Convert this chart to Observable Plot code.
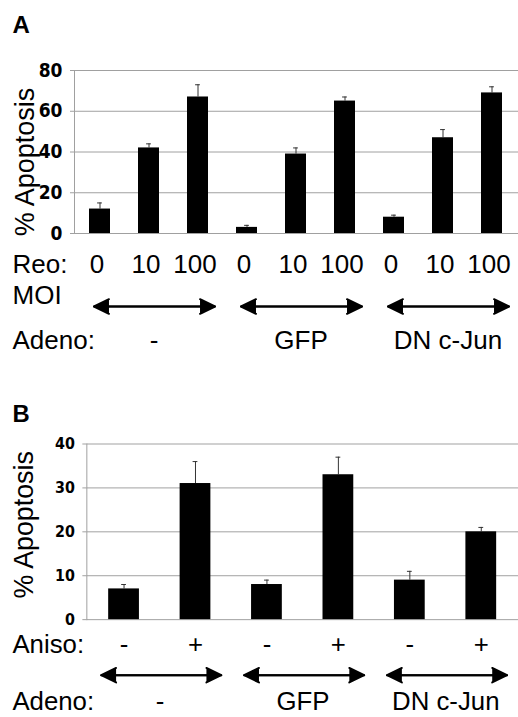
<!DOCTYPE html>
<html>
<head>
<meta charset="utf-8">
<script src="https://cdn.jsdelivr.net/npm/d3@7"></script>
<script src="https://cdn.jsdelivr.net/npm/@observablehq/plot@0.6"></script>
<style>
  html, body { margin: 0; padding: 0; background: #fff; overflow: hidden; width: 518px; height: 717px; }
  #wrap { position: relative; width: 518px; height: 717px; overflow: hidden; }
  #wrap svg { position: absolute; left: 0; overflow: visible; }
</style>
</head>
<body>
<div id="wrap"></div>
<script>
// ---------- Data ----------
const adenoGroups = ["-", "GFP", "DN c-Jun"];

// Panel A
const barsA = ["A1", "A2", "A3", "A4", "A5", "A6", "A7", "A8", "A9"];
const reoMOI = ["0", "10", "100", "0", "10", "100", "0", "10", "100"];
const apoptosisA = [12, 42, 67, 3, 39, 65, 8, 47, 69];
const errorA = [3, 2, 6, 1, 3, 2, 1, 4, 3];
const groupA = [0, 0, 0, 1, 1, 1, 2, 2, 2];
const yTicksA = [0, 20, 40, 60, 80];

// Panel B
const barsB = ["B1", "B2", "B3", "B4", "B5", "B6"];
const aniso = ["-", "+", "-", "+", "-", "+"];
const apoptosisB = [7, 31, 8, 33, 9, 20];
const errorB = [1, 5, 1, 4, 2, 1];
const groupB = [0, 0, 1, 1, 2, 2];
const yTicksB = [0, 10, 20, 30, 40];

// ---------- Build ----------
const FONT = "'Liberation Sans', Arial, Helvetica, sans-serif";
const TICKFONT = "'Liberation Sans Narrow', 'Arial Narrow', 'DejaVu Sans Condensed', sans-serif";

function buildPanel(cfg) {
  const rows = cfg.bars.map((b, i) => ({
    bar: b, label: cfg.treat[i], value: cfg.values[i], upper: cfg.values[i] + cfg.errors[i], group: cfg.group[i]
  }));
  const groups = cfg.groupNames.map((g, gi) => {
    const members = rows.filter(r => r.group === gi);
    return {name: g, first: members[0].bar, last: members[members.length - 1].bar,
            mid: members[Math.floor((members.length - 1) / 2)].bar};
  });
  const step = (cfg.width - cfg.marginLeft) / cfg.bars.length;
  const capInset = (step * 0.43 - 5) / 2;
  const textStyle = {fontSize: 26, lineAnchor: "bottom", fill: "black"};
  return Plot.plot({
    width: cfg.width,
    height: cfg.height,
    marginTop: cfg.marginTop,
    marginBottom: cfg.marginBottom,
    marginLeft: cfg.marginLeft,
    marginRight: 0,
    style: {fontFamily: FONT, color: "black", background: "transparent"},
    x: {domain: cfg.bars, paddingInner: 0.57, paddingOuter: 0.285, axis: null},
    y: {domain: cfg.yDomain},
    marks: [
      Plot.gridY(cfg.yTicks, {stroke: "#a0a0a0", strokeOpacity: 1, strokeWidth: 1}),
      Plot.frame({anchor: "left", stroke: "#a0a0a0", strokeWidth: 1}),
      Plot.axisY(cfg.yTicks, {tickSize: 4, tickPadding: 8, stroke: "#a0a0a0", label: null,
        fontSize: cfg.tickFont, fontWeight: "bold", fontFamily: TICKFONT, fill: "black"}),
      Plot.ruleX(rows, {x: "bar", y1: "value", y2: "upper", stroke: "#333", strokeWidth: 1}),
      Plot.tickY(rows, {x: "bar", y: "upper", stroke: "#333", strokeWidth: 1, insetLeft: capInset, insetRight: capInset}),
      Plot.barY(rows, {x: "bar", y: "value", fill: "black"}),
      // panel letter
      Plot.text([cfg.letter], {text: d => d, frameAnchor: "top-left", textAnchor: "start",
        dx: 12 - cfg.marginLeft, dy: cfg.letterDy, lineAnchor: "bottom", fontSize: 24, fontWeight: "bold", fill: "black"}),
      // y label
      Plot.text(["% Apoptosis"], {text: d => d, frameAnchor: "left", rotate: -90, textAnchor: "middle",
        dx: 33 - cfg.marginLeft, dy: cfg.yLabelDy, lineAnchor: "bottom", fontSize: 27, fill: "black"}),
      // treatment row
      Plot.text([cfg.treatName], {text: d => d, frameAnchor: "bottom-left", textAnchor: "start",
        dx: 12 - cfg.marginLeft, dy: cfg.treatDy, ...textStyle}),
      Plot.text(rows, {x: "bar", text: "label", frameAnchor: "bottom", dx: cfg.treatDx, dy: cfg.treatDy, ...textStyle}),
      ...(cfg.moi ? [Plot.text(["MOI"], {text: d => d, frameAnchor: "bottom-left", textAnchor: "start",
        dx: 12 - cfg.marginLeft, dy: cfg.moiDy, ...textStyle})] : []),
      // double-headed arrows
      Plot.arrow(groups, {x1: "first", x2: "last", y1: 0, y2: 0, dy: cfg.arrowDy,
        insetStart: -cfg.arrowExtL, insetEnd: -cfg.arrowExtR, stroke: "black", fill: "black",
        strokeWidth: 2, headLength: 12.5, headAngle: 52}),
      Plot.arrow(groups, {x1: "last", x2: "first", y1: 0, y2: 0, dy: cfg.arrowDy,
        insetStart: -cfg.arrowExtR, insetEnd: -cfg.arrowExtL, stroke: "black", fill: "black",
        strokeWidth: 2, headLength: 12.5, headAngle: 52}),
      // adeno row
      Plot.text(["Adeno:"], {text: d => d, frameAnchor: "bottom-left", textAnchor: "start",
        dx: 12 - cfg.marginLeft, dy: cfg.adenoDy, ...textStyle}),
      Plot.text(groups, {x: cfg.groupCenterIsBar ? "mid" : "first", text: "name", frameAnchor: "bottom",
        dx: (cfg.groupCenterIsBar ? 0 : step / 2) + cfg.adenoDx, dy: cfg.adenoDy, ...textStyle})
    ]
  });
}

const wrap = document.getElementById("wrap");

const svgA = buildPanel({
  letter: "A", bars: barsA, treat: reoMOI, values: apoptosisA, errors: errorA, group: groupA,
  groupNames: adenoGroups, yTicks: yTicksA, yDomain: [0, 80],
  width: 518, height: 358, marginTop: 70, marginBottom: 125, marginLeft: 74,
  tickFont: 19, letterDy: -38, yLabelDy: 10, treatName: "Reo:", treatDx: -3, treatDy: 39,
  moi: true, moiDy: 70, arrowDy: 73, arrowExtL: 6, arrowExtR: 17, adenoDy: 115, adenoDx: 5,
  groupCenterIsBar: true
});
svgA.style.top = "0px";
wrap.appendChild(svgA);

const svgB = buildPanel({
  letter: "B", bars: barsB, treat: aniso, values: apoptosisB, errors: errorB, group: groupB,
  groupNames: adenoGroups, yTicks: yTicksB, yDomain: [0, 40],
  width: 522, height: 337, marginTop: 64, marginBottom: 96, marginLeft: 87,
  tickFont: 16, letterDy: -22, yLabelDy: -7, treatName: "Aniso:", treatDx: 0, treatDy: 34,
  moi: false, arrowDy: 56, arrowExtL: 23, arrowExtR: 26, adenoDy: 91, adenoDx: 0,
  groupCenterIsBar: false
});
svgB.style.top = "380px";
wrap.appendChild(svgB);
</script>
</body>
</html>
